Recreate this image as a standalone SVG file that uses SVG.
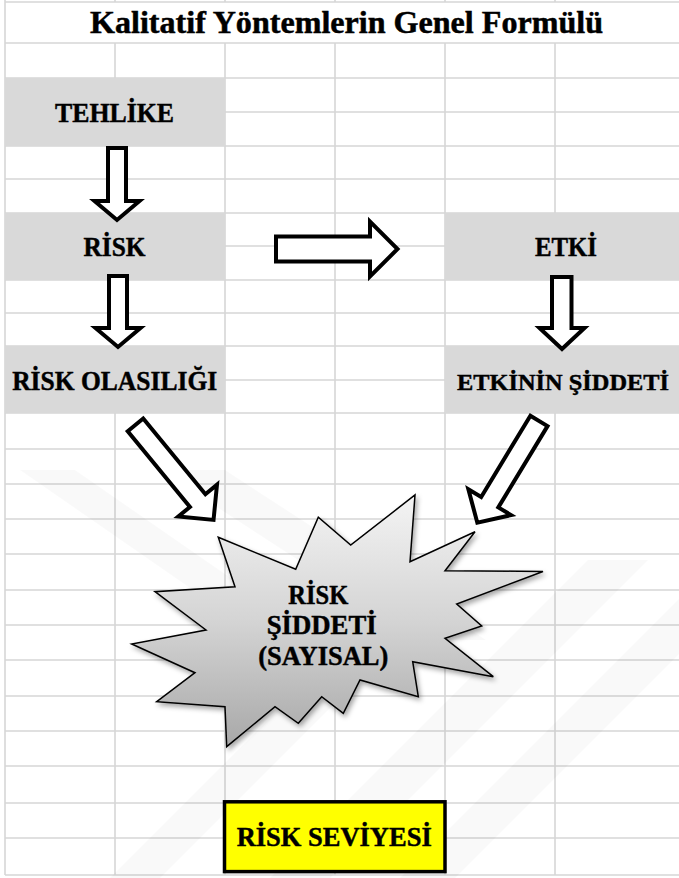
<svg xmlns="http://www.w3.org/2000/svg" width="679" height="878" viewBox="0 0 679 878">
  <defs>
    <style>
      .grid { stroke: #d6d6d6; stroke-width: 1.6; fill: none; }
      .cell { fill: #d9d9d9; }
      .lbl { font-family: "Liberation Serif", "Times New Roman", serif; font-weight: bold; font-size: 26.5px; fill: #000; stroke: #000; stroke-width: 0.45; text-anchor: middle; }
      .title { font-family: "Liberation Serif", "Times New Roman", serif; font-weight: bold; font-size: 32.5px; fill: #000; stroke: #000; stroke-width: 0.5; }
      .arrow { fill: #fff; stroke: #000; stroke-width: 4; stroke-linejoin: miter; stroke-miterlimit: 10; }
      .mark { fill: #000; opacity: 0.025; }
    </style>
    <linearGradient id="burstFill" x1="0" y1="495" x2="0" y2="747" gradientUnits="userSpaceOnUse">
      <stop offset="0" stop-color="#f4f4f4"/>
      <stop offset="0.5" stop-color="#d4d4d4"/>
      <stop offset="1" stop-color="#a8a8a8"/>
    </linearGradient>
    <filter id="burstShadow" x="-15%" y="-15%" width="140%" height="140%">
      <feDropShadow dx="2" dy="3" stdDeviation="2.5" flood-color="#000" flood-opacity="0.35"/>
    </filter>
  </defs>

  <rect x="0" y="0" width="679" height="878" fill="#fff"/>

  <!-- spreadsheet grid -->
  <g id="grid">
    <path class="grid" d="M5,2 H679 M5,43 H679 M5,78 H679 M5,112 H679 M5,146 H679 M5,179 H679 M5,213 H679 M5,246 H679 M5,280 H679 M5,313 H679 M5,346 H679 M5,380 H679 M5,413 H679 M5,449 H679 M5,484 H679 M5,519 H679 M5,554 H679 M5,590 H679 M5,625 H679 M5,660 H679 M5,696 H679 M5,731 H679 M5,766 H679 M5,803 H679 M5,838 H679 M5,875 H679"/>
    <path class="grid" d="M5,0 V875 M115,0 V2 M225,0 V2 M335,0 V2 M445,0 V2 M555,0 V2 M115,43 V875 M225,43 V875 M335,43 V875 M445,43 V875 M555,43 V875"/>
  </g>

  <!-- faint diagonal background bands -->
  <g id="watermark">
    <polygon class="mark" points="160,470 225,470 486,640 421,640"/>
    <polygon class="mark" points="20,470 75,470 320,640 265,640"/>
    <polygon class="mark" points="110,878 160,878 388,650 338,650"/>
    <polygon class="mark" points="270,878 330,878 648,560 588,560"/>
    <polygon class="mark" points="400,878 455,878 679,654 679,599"/>
  </g>

  <!-- title row -->
  <g id="title">
    <text class="title" x="90" y="33.3" textLength="513" lengthAdjust="spacingAndGlyphs">Kalitatif Yöntemlerin Genel Formülü</text>
  </g>

  <!-- nodes -->
  <g id="node-tehlike">
    <rect class="cell" x="5" y="78" width="220" height="68"/>
    <text class="lbl" x="114.5" y="121.5" textLength="119" lengthAdjust="spacingAndGlyphs">TEHLİKE</text>
  </g>
  <g id="node-risk">
    <rect class="cell" x="5" y="213" width="220" height="67"/>
    <text class="lbl" x="114.5" y="256" textLength="62" lengthAdjust="spacingAndGlyphs">RİSK</text>
  </g>
  <g id="node-risk-olasiligi">
    <rect class="cell" x="5" y="346" width="220" height="67"/>
    <text class="lbl" x="114.7" y="390" textLength="205" lengthAdjust="spacingAndGlyphs">RİSK OLASILIĞI</text>
  </g>
  <g id="node-etki">
    <rect class="cell" x="445" y="213" width="234" height="67"/>
    <text class="lbl" x="566" y="255.5" textLength="62" lengthAdjust="spacingAndGlyphs">ETKİ</text>
  </g>
  <g id="node-etkinin-siddeti">
    <rect class="cell" x="445" y="346" width="234" height="67"/>
    <text class="lbl" x="563" y="390" style="font-size:24px" textLength="212" lengthAdjust="spacingAndGlyphs">ETKİNİN ŞİDDETİ</text>
  </g>

  <!-- block arrows -->
  <g id="connectors">
    <path class="arrow" d="M108,148 H126 V201 H139.5 L117,220 L94.5,201 H108 Z"/>
    <path class="arrow" d="M109,276 H127 V328 H140.5 L118,347 L95.5,328 H109 Z"/>
    <path class="arrow" d="M276,236.5 H370 V221.5 L397.5,249 L370,276.5 V261.5 H276 Z"/>
    <path class="arrow" d="M552,277 H571.5 V328 H584.5 L562,349 L539.5,328 H552 Z"/>
    <path class="arrow" transform="translate(134.2,423.3) rotate(50.6)" d="M2,-10 H100 V-25 L125,0 L100,25 V10 H2 Z"/>
    <path class="arrow" transform="translate(540,419.2) rotate(121.2)" d="M2,-10 H97 V-25 L121,0 L97,25 V10 H2 Z"/>
  </g>

  <!-- explosion shape -->
  <g id="node-risk-siddeti">
    <polygon filter="url(#burstShadow)" fill="url(#burstFill)" stroke="#000" stroke-width="1.5" stroke-linejoin="miter"
      points="218.3,537.3 295.7,569.3 318.3,517.3 350.7,545 415,495 410,561.7 475,531.7 445,570.7 543,571.5 456.7,604 481.7,626 445,638.3 493.3,676.7 412.7,661.7 418.3,696.7 360,680 343.3,713.3 321.7,696.7 298.3,723.3 275,706.7 226.7,746.7 225,706.7 156.7,701.7 195,672.7 131.7,644 206,630 155,591.7 235,586.7"/>
    <text class="lbl" x="318.3" y="604" textLength="60" lengthAdjust="spacingAndGlyphs">RİSK</text>
    <text class="lbl" x="321.7" y="634" textLength="110" lengthAdjust="spacingAndGlyphs">ŞİDDETİ</text>
    <text class="lbl" x="323.3" y="665" textLength="130" lengthAdjust="spacingAndGlyphs">(SAYISAL)</text>
  </g>

  <g id="node-risk-seviyesi">
    <rect x="224.5" y="801.8" width="220.5" height="69.8" fill="#ffff00" stroke="#000" stroke-width="3.5"/>
    <text class="lbl" x="334.2" y="846" textLength="195" lengthAdjust="spacingAndGlyphs">RİSK SEVİYESİ</text>
  </g>
</svg>
